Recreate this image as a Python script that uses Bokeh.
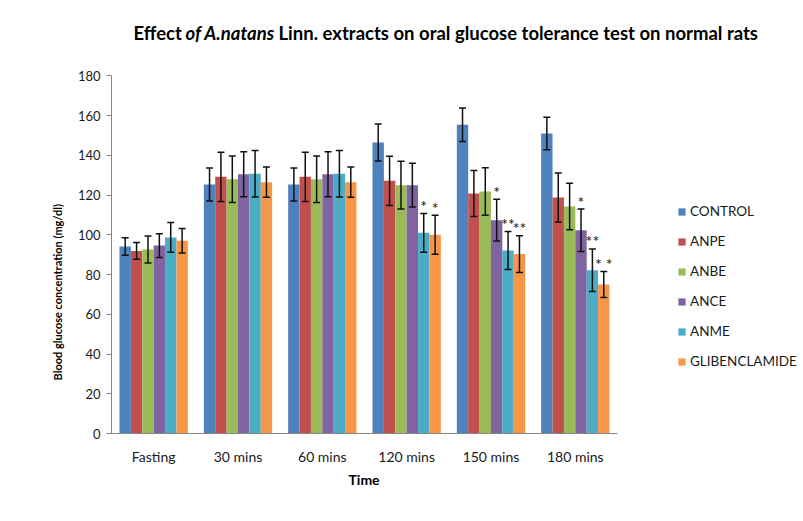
from bokeh.plotting import figure
from bokeh.models import (ColumnDataSource, Whisker, TeeHead, Label, Legend,
                          LegendItem, FixedTicker, Title)
from bokeh.core.properties import value
from bokeh.embed import file_html
from bokeh.resources import INLINE

# ---------------- data ----------------
times = ["Fasting", "30 mins", "60 mins", "120 mins", "150 mins", "180 mins"]
series = ["CONTROL", "ANPE", "ANBE", "ANCE", "ANME", "GLIBENCLAMIDE"]

control = [94.1, 125.3, 125.3, 146.5, 155.4, 151.0]
anpe = [91.9, 129.2, 129.2, 127.2, 120.8, 118.8]
anbe = [92.6, 128.0, 128.0, 125.0, 121.8, 114.3]
ance = [94.6, 130.5, 130.5, 125.0, 107.4, 102.3]
anme = [98.7, 130.7, 130.7, 101.0, 92.1, 82.2]
glib = [97.0, 126.5, 126.5, 100.0, 90.3, 75.0]

control_err = [4.4, 8.3, 8.3, 9.3, 8.4, 8.2]
anpe_err = [4.2, 12.4, 12.4, 12.4, 11.6, 12.3]
anbe_err = [6.8, 11.7, 11.7, 12.0, 12.0, 11.7]
ance_err = [6.0, 11.3, 11.3, 11.0, 10.5, 10.7]
anme_err = [7.5, 11.7, 11.7, 9.8, 9.6, 10.7]
glib_err = [6.2, 7.6, 7.6, 9.8, 9.3, 6.6]

control_sig = ["", "", "", "", "", ""]
anpe_sig = ["", "", "", "", "", ""]
anbe_sig = ["", "", "", "", "", ""]
ance_sig = ["", "", "", "", "*", "*"]
anme_sig = ["", "", "", "*", "**", "**"]
glib_sig = ["", "", "", "*", "**", "* *"]

means = [control, anpe, anbe, ance, anme, glib]
errs = [control_err, anpe_err, anbe_err, ance_err, anme_err, glib_err]
sigs = [control_sig, anpe_sig, anbe_sig, ance_sig, anme_sig, glib_sig]
colors = ["#4F81BD", "#C0504D", "#9BBB59", "#8064A2", "#4BACC6", "#F79646"]

y_ticks = [0, 20, 40, 60, 80, 100, 120, 140, 160, 180]

FONT = "Lato"

# ---------------- layout geometry (pixels) ----------------
W, H = 794, 513
LEFT, BOTTOM = 103, 87
cat_px = 84.33             # width of one time category
y_px = 357.6 / 180         # pixels per mg/dl
frame_w = W - LEFT
frame_h = H - BOTTOM
x_end = frame_w / cat_px
y_end = frame_h / y_px
X0, Y0 = 111, 433.3        # page position of the axes origin


def px_x(X):
    return (X - X0) / cat_px


def px_y(Y):
    return (Y0 - Y) / y_px


p = figure(x_range=(0, x_end), y_range=(0, y_end), width=W, height=H,
           output_backend="svg", toolbar_location=None,
           min_border_left=LEFT, min_border_right=0,
           min_border_top=0, min_border_bottom=BOTTOM)
p.margin = (7, 0, 0, 8)
p.outline_line_color = None
p.xgrid.visible = False
p.ygrid.visible = False

bw = 0.135
items = []
for i, (name, m, e, s, c) in enumerate(zip(series, means, errs, sigs, colors)):
    off = (i - 2.5) * bw
    xs = [k + 0.5 + off for k in range(len(times))]
    src = ColumnDataSource(dict(
        x=xs, mean=m,
        upper=[a + b for a, b in zip(m, e)],
        lower=[a - b for a, b in zip(m, e)],
        sig=s))
    r = p.vbar(x="x", top="mean", width=bw, bottom=0, source=src,
               fill_color=c, line_color=None)
    items.append(LegendItem(label=name, renderers=[r]))
    w = Whisker(base="x", upper="upper", lower="lower", source=src,
                line_color="#111111", line_width=1.5, level="annotation",
                upper_head=TeeHead(size=7, line_color="#111111", line_width=1.5),
                lower_head=TeeHead(size=7, line_color="#111111", line_width=1.5))
    p.add_layout(w)
    p.text(x="x", y="upper", text="sig", source=src, text_align="center",
           text_baseline="middle", y_offset=-8, text_font=value(FONT),
           text_font_size="16px", text_color="#111111", level="overlay")

# axes
p.yaxis.ticker = FixedTicker(ticks=y_ticks)
p.yaxis.bounds = (0, 180)
p.yaxis.minor_tick_line_color = None
p.yaxis.major_tick_in = 0
p.yaxis.major_tick_out = 5
p.yaxis.major_label_standoff = 6
p.yaxis.major_label_text_font_size = "13px"
p.xaxis.ticker = FixedTicker(ticks=[k + 0.5 for k in range(len(times))])
p.xaxis.major_label_overrides = {k + 0.5: t for k, t in enumerate(times)}
p.xaxis.bounds = (0, len(times))
for ax in (p.xaxis, p.yaxis):
    ax.axis_line_color = "#868686"
    ax.major_tick_line_color = "#868686"
    ax.major_label_text_font = FONT
    ax.major_label_text_color = "#1a1a1a"
p.xaxis.major_tick_line_color = None
p.xaxis.minor_tick_line_color = None
p.xaxis.major_tick_in = 0
p.xaxis.major_tick_out = 0
p.xaxis.major_label_standoff = 14
p.xaxis.major_label_text_font_size = "14px"

# x axis title "Time" (centred under the six groups)
p.add_layout(Title(text="Time", align="left", offset=237, text_font=FONT,
                   text_font_style="bold", text_font_size="14px",
                   text_color="#000000", standoff=2), "below")

# y axis title, rotated, a little below the axis centre
p.add_layout(Title(text="Blood glucose concentration (mg/dl)", align="left",
                   offset=53, text_font=FONT, text_font_style="bold",
                   text_font_size="11px", text_color="#000000", standoff=22),
             "left")

# chart title in pieces (italic species name)
ty = px_y(33)
TFS = "18.5px"
p.add_layout(Label(x=px_x(133), y=ty, text="Effect", text_align="left",
                   text_baseline="middle", text_font=FONT, text_font_style="bold",
                   text_font_size=TFS, text_color="#000000"))
p.add_layout(Label(x=px_x(185), y=ty, text="of A.natans",
                   text_align="left", text_baseline="middle", text_font=FONT,
                   text_font_style="bold italic", text_font_size=TFS,
                   text_color="#000000"))
p.add_layout(Label(x=px_x(278), y=ty,
                   text="Linn. extracts on oral glucose tolerance test on normal rats",
                   text_align="left", text_baseline="middle", text_font=FONT,
                   text_font_style="bold", text_font_size=TFS,
                   text_color="#000000"))

legend = Legend(items=items, location=(566, 62), glyph_width=9, glyph_height=9,
                label_text_font=FONT, label_text_font_size="13.5px",
                label_text_color="#1a1a1a",
                label_height=20, spacing=10, padding=0, margin=0,
                border_line_color=None, background_fill_alpha=0, label_standoff=4)
p.add_layout(legend)

open("out.html", "w").write(file_html(p, INLINE))
